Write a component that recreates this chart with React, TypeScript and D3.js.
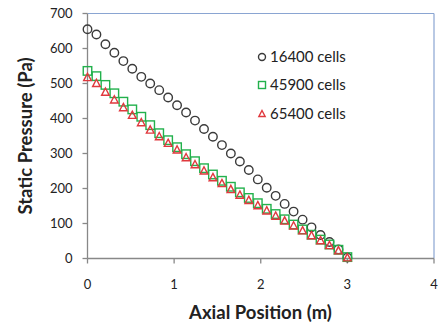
import React from "react";
import * as d3 from "d3";

const xPositions = [0, 0.103, 0.207, 0.31, 0.414, 0.517, 0.621, 0.724, 0.828, 0.931, 1.034, 1.138, 1.241, 1.345, 1.448, 1.552, 1.655, 1.759, 1.862, 1.966, 2.069, 2.172, 2.276, 2.379, 2.483, 2.586, 2.69, 2.793, 2.897, 3.0];
const cells16400 = [655, 640, 612, 588, 564, 542, 519, 500, 481, 460, 438, 417, 394, 370, 348, 324, 300, 277, 253, 226, 202, 179, 156, 134, 111, 89, 67, 47, 26, 3];
const cells45900 = [536, 521, 496, 472, 448, 426, 405, 381, 358, 338, 318, 298, 278, 258, 240, 222, 205, 189, 173, 158, 142, 127, 112, 97, 83, 68, 54, 40, 25, 4];
const cells65400 = [517, 500, 475, 453, 431, 409, 388, 367, 348, 329, 310, 288, 268, 250, 231, 214, 197, 181, 166, 151, 136, 121, 107, 93, 79, 65, 51, 37, 22, 2];
const seriesNames = ["16400 cells", "45900 cells", "65400 cells"];
const xTicks = [0, 1, 2, 3, 4];
const yTicks = [0, 100, 200, 300, 400, 500, 600, 700];

const W = 438;
const H = 326;
const FONT = "Lato, 'Open Sans', sans-serif";

function Marker({ kind, x, y, size }: { kind: number; x: number; y: number; size: number }) {
  if (kind === 0) {
    return <circle cx={x} cy={y} r={size / 2} fill="none" stroke="#3a3a3a" strokeWidth={1.4} />;
  }
  if (kind === 1) {
    return (
      <rect x={x - size / 2} y={y - size / 2} width={size} height={size} fill="none" stroke="#22b14c" strokeWidth={1.4} />
    );
  }
  const s = size * 0.9;
  const p = d3.path();
  p.moveTo(x, y - s * 0.55);
  p.lineTo(x + s / 2, y + s * 0.4);
  p.lineTo(x - s / 2, y + s * 0.4);
  p.closePath();
  return <path d={p.toString()} fill="none" stroke="#e0393e" strokeWidth={1.4} />;
}

export default function App() {
  const left = 87.5;
  const right = 434;
  const top = 13.5;
  const bottom = 258.5;
  const x = d3.scaleLinear().domain([0, 4]).range([left, right]);
  const y = d3.scaleLinear().domain([0, 700]).range([bottom, top]);
  const series = [cells16400, cells45900, cells65400];
  const axisColor = "#888888";
  const textColor = "#222";

  return (
    <svg width={W} height={H} style={{ position: "absolute", left: 0, top: 0, background: "#fff" }}>
      <line x1={left} x2={right} y1={top} y2={top} stroke="#8aa5d2" strokeWidth={1.2} />
      <line x1={right} x2={right} y1={top} y2={bottom} stroke="#8aa5d2" strokeWidth={1.2} />
      <line x1={left} x2={left} y1={top} y2={bottom} stroke={axisColor} strokeWidth={1.3} />
      <line x1={left} x2={right} y1={bottom} y2={bottom} stroke={axisColor} strokeWidth={1.3} />
      {yTicks.map((t) => (
        <g key={"y" + t}>
          <line x1={left - 5} x2={left} y1={y(t)} y2={y(t)} stroke={axisColor} strokeWidth={1.3} />
          <text x={left - 15} y={y(t)} dy="0.36em" textAnchor="end" fontFamily={FONT} fontSize={13} fill={textColor}>
            {t}
          </text>
        </g>
      ))}
      {xTicks.map((t) => (
        <g key={"x" + t}>
          <line x1={x(t)} x2={x(t)} y1={bottom} y2={bottom + 5} stroke={axisColor} strokeWidth={1.3} />
          <text x={x(t)} y={284} dy="0.36em" textAnchor="middle" fontFamily={FONT} fontSize={13} fill={textColor}>
            {t}
          </text>
        </g>
      ))}
      {series.map((vals, si) => (
        <g key={"s" + si}>
          {vals.map((v, i) => (
            <Marker key={i} kind={si} x={x(xPositions[i])} y={y(v)} size={8.5} />
          ))}
        </g>
      ))}
      {seriesNames.map((n, i) => {
        const ly = [57, 85, 114][i];
        return (
          <g key={"l" + i}>
            <Marker kind={i} x={262} y={ly} size={7} />
            <text x={270} y={ly} dy="0.36em" fontFamily={FONT} fontSize={15} fill={textColor}>
              {n}
            </text>
          </g>
        );
      })}
      <text
        x={260.5}
        y={312}
        dy="0.36em"
        textAnchor="middle"
        fontFamily={FONT}
        fontWeight="bold"
        fontSize={18.5}
        fill={textColor}
      >
        Axial Position (m)
      </text>
      <text
        transform={`translate(25, 136) rotate(-90)`}
        dy="0.36em"
        textAnchor="middle"
        fontFamily={FONT}
        fontWeight="bold"
        fontSize={18.5}
        fill={textColor}
      >
        Static Pressure (Pa)
      </text>
    </svg>
  );
}
